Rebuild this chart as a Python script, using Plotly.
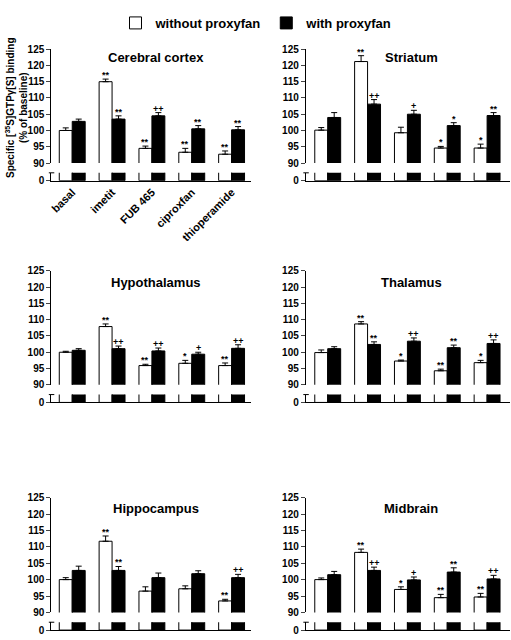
import plotly.graph_objects as go

W, H = 511, 640

categories = ["basal", "imetit", "FUB 465", "ciproxfan", "thioperamide"]
series_names = ["without proxyfan", "with proxyfan"]
regions = ["Cerebral cortex", "Striatum", "Hypothalamus", "Thalamus", "Hippocampus", "Midbrain"]
y_ticks = [90, 95, 100, 105, 110, 115, 120, 125]

# values (% of baseline)
cortex_without = [100.0, 115.0, 94.5, 93.3, 92.7]
cortex_without_err = [0.8, 0.8, 0.7, 1.2, 1.0]
cortex_with = [102.8, 103.5, 104.5, 100.5, 100.2]
cortex_with_err = [0.7, 1.0, 1.0, 1.0, 1.0]
cortex_without_sig = ["", "**", "**", "**", "**"]
cortex_with_sig = ["", "**", "++", "**", "**"]

striatum_without = [100.1, 121.2, 99.3, 94.6, 94.6]
striatum_without_err = [0.8, 1.8, 1.7, 0.5, 1.2]
striatum_with = [104.0, 108.1, 105.0, 101.5, 104.6]
striatum_with_err = [1.5, 1.4, 1.2, 0.9, 0.9]
striatum_without_sig = ["", "**", "", "*", "*"]
striatum_with_sig = ["", "++", "+", "*", "**"]

hypothalamus_without = [100.0, 107.9, 95.9, 96.6, 95.9]
hypothalamus_without_err = [0.3, 0.8, 0.4, 0.9, 0.8]
hypothalamus_with = [100.6, 101.1, 100.4, 99.4, 101.2]
hypothalamus_with_err = [0.5, 0.8, 0.9, 0.6, 1.1]
hypothalamus_without_sig = ["", "**", "**", "*", "**"]
hypothalamus_with_sig = ["", "++", "++", "+", "++"]

thalamus_without = [99.9, 108.7, 97.3, 94.3, 96.8]
thalamus_without_err = [0.8, 0.7, 0.3, 0.5, 0.7]
thalamus_with = [101.1, 102.4, 103.4, 101.4, 102.7]
thalamus_with_err = [0.6, 0.8, 1.0, 0.8, 1.1]
thalamus_without_sig = ["", "**", "*", "**", "*"]
thalamus_with_sig = ["", "**", "++", "**", "++"]

hippocampus_without = [100.0, 111.7, 96.5, 97.2, 93.5]
hippocampus_without_err = [0.6, 1.6, 1.3, 0.9, 0.5]
hippocampus_with = [102.8, 102.8, 100.6, 101.8, 100.6]
hippocampus_with_err = [1.3, 1.2, 1.4, 0.9, 1.0]
hippocampus_without_sig = ["", "**", "", "", "**"]
hippocampus_with_sig = ["", "**", "", "", "++"]

midbrain_without = [100.0, 108.3, 97.0, 94.5, 94.7]
midbrain_without_err = [0.5, 1.0, 0.8, 1.0, 1.1]
midbrain_with = [101.5, 102.8, 99.9, 102.3, 100.2]
midbrain_with_err = [1.0, 1.0, 0.9, 1.3, 1.1]
midbrain_without_sig = ["", "**", "*", "**", "**"]
midbrain_with_sig = ["", "++", "+", "**", "++"]

panels = [
    (cortex_without, cortex_without_err, cortex_with, cortex_with_err, cortex_without_sig, cortex_with_sig),
    (striatum_without, striatum_without_err, striatum_with, striatum_with_err, striatum_without_sig, striatum_with_sig),
    (hypothalamus_without, hypothalamus_without_err, hypothalamus_with, hypothalamus_with_err, hypothalamus_without_sig, hypothalamus_with_sig),
    (thalamus_without, thalamus_without_err, thalamus_with, thalamus_with_err, thalamus_without_sig, thalamus_with_sig),
    (hippocampus_without, hippocampus_without_err, hippocampus_with, hippocampus_with_err, hippocampus_without_sig, hippocampus_with_sig),
    (midbrain_without, midbrain_without_err, midbrain_with, midbrain_with_err, midbrain_without_sig, midbrain_with_sig),
]

# geometry in pixels
cols = [dict(x0=49.5, x1=250, c0=70.5, title_x=155), dict(x0=305, x1=510, c0=327, title_x=411)]
rows = [dict(top=44, mid=160, lo_top=170, lo_bot=178, title_y=52),
        dict(top=270, mid=386, lo_top=396, lo_bot=404, title_y=282),
        dict(top=501, mid=618, lo_top=628, lo_bot=636, title_y=512)]
SPACING = 40.0
HALF = 0.1625

def px(v):
    return v / W

def py(v):
    return 1 - v / H

FONT = "Liberation Sans, Arial, sans-serif"
fig = go.Figure()
layout = dict(
    width=W, height=H, autosize=False,
    margin=dict(l=0, r=0, t=0, b=0),
    paper_bgcolor="white", plot_bgcolor="white",
    barmode="group", bargap=0.35, bargroupgap=0,
    font=dict(family=FONT, color="black"),
    showlegend=True,
    legend=dict(orientation="h", x=0.5, xanchor="center", y=py(2), yanchor="top",
                font=dict(size=13, weight="bold", family=FONT), bgcolor="rgba(0,0,0,0)",
                itemwidth=30, tracegroupgap=0),
)
annotations = []
shapes = []

for i, (wo, woe, wi, wie, wos, wis) in enumerate(panels):
    col = cols[i % 2]
    row = rows[i // 2]
    up = 2 * i + 1
    lo = 2 * i + 2
    rng = [(col["x0"] - col["c0"]) / SPACING, (col["x1"] - col["c0"]) / SPACING]
    xdom = [px(col["x0"]), px(col["x1"])]
    up_name = "" if up == 1 else str(up)
    lo_name = str(lo)

    # upper segment
    layout["xaxis" + up_name] = dict(domain=xdom, range=rng, visible=False, anchor="y" + up_name,
                                      type="category", categoryorder="array", categoryarray=categories)
    layout["yaxis" + up_name] = dict(domain=[py(row["mid"]), py(row["top"])], range=[90, 125],
                                      tickvals=y_ticks, ticks="outside", ticklen=4, tickwidth=1,
                                      showline=True, linecolor="black", linewidth=1, showgrid=False,
                                      zeroline=False, anchor="x" + up_name,
                                      tickfont=dict(size=10, weight="bold", family=FONT))
    # lower segment
    layout["xaxis" + lo_name] = dict(domain=xdom, range=rng, anchor="y" + lo_name,
                                      type="category", categoryorder="array", categoryarray=categories,
                                      showline=True, linecolor="black", linewidth=1, showgrid=False,
                                      ticks="", showticklabels=(i == 0), tickangle=-45,
                                      tickfont=dict(size=11, weight="bold", family=FONT))
    layout["yaxis" + lo_name] = dict(domain=[py(row["lo_bot"]), py(row["lo_top"])], range=[0, 1],
                                      tickvals=[0], ticktext=["0"], ticks="outside", ticklen=4,
                                      showline=True, linecolor="black", linewidth=1, showgrid=False,
                                      zeroline=False, anchor="x" + lo_name,
                                      tickfont=dict(size=10, weight="bold", family=FONT))

    for (vals, errs, fill, name, show) in [(wo, woe, "white", series_names[0], i == 0),
                                           (wi, wie, "black", series_names[1], i == 0)]:
        fig.add_trace(go.Bar(x=categories, y=vals, name=name, legendgroup=name, showlegend=show,
                             marker=dict(color=fill, line=dict(color="black", width=1)),
                             error_y=dict(type="data", array=errs, arrayminus=[0] * len(errs),
                                          symmetric=False, color="black", thickness=1, width=3),
                             xaxis="x" + up_name, yaxis="y" + up_name, hoverinfo="skip"))
        fig.add_trace(go.Bar(x=categories, y=vals, name=name, legendgroup=name, showlegend=False,
                             marker=dict(color=fill, line=dict(color="black", width=1)),
                             xaxis="x" + lo_name, yaxis="y" + lo_name, hoverinfo="skip"))

    # significance marks
    for j in range(len(categories)):
        for (vals, errs, sig, off) in [(wo, woe, wos, -HALF), (wi, wie, wis, HALF)]:
            if sig[j]:
                annotations.append(dict(x=j + off, y=vals[j] + errs[j], xref="x" + up_name,
                                        yref="y" + up_name, text=sig[j], showarrow=False,
                                        yanchor="bottom", yshift=-3,
                                        font=dict(size=9, weight="bold", family=FONT, color="black")))

    # region title
    annotations.append(dict(x=px(col["title_x"]), y=py(row["title_y"]), xref="paper", yref="paper",
                            text=regions[i], showarrow=False, xanchor="center", yanchor="middle",
                            font=dict(size=13, weight="bold", family=FONT)))
    # cap on the lower axis segment
    shapes.append(dict(type="line", xref="paper", yref="paper",
                       x0=px(col["x0"] - 2.5), x1=px(col["x0"] + 3),
                       y0=py(row["lo_top"]), y1=py(row["lo_top"]),
                       line=dict(color="black", width=1)))

annotations.append(dict(x=px(14), y=py(103), xref="paper", yref="paper",
                        text="Specific [<sup>35</sup>S]GTPγ[S] binding<br>(% of baseline)",
                        textangle=-90, showarrow=False, xanchor="center", yanchor="middle",
                        font=dict(size=10, weight="bold", family=FONT)))

layout["annotations"] = annotations
layout["shapes"] = shapes
fig.update_layout(**layout)
fig.write_html("out.html", config={"displayModeBar": False},
               post_script="document.body.style.margin='0';document.body.style.padding='0';")
